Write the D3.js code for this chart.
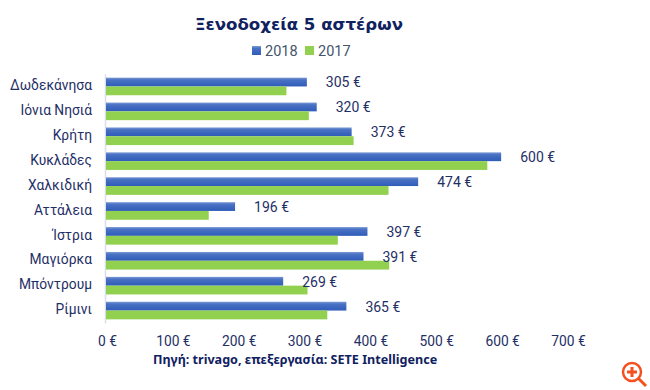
<!DOCTYPE html>
<html>
<head>
<meta charset="utf-8">
<script src="https://cdn.jsdelivr.net/npm/d3@7"></script>
<style>
  html, body { margin: 0; padding: 0; background: #fff; }
  text { font-family: Roboto, sans-serif; fill: #1f2f66; }
  .title { font-family: "DejaVu Sans", sans-serif; font-weight: bold; font-size: 16.6px; fill: #10215f; }
  .source { font-family: "Noto Sans", sans-serif; font-weight: bold; font-size: 12.6px; fill: #10215f; }
  .tick text { font-family: Roboto, sans-serif; font-size: 13.8px; }
</style>
</head>
<body>
<svg id="chart" width="650" height="390"></svg>
<script>
const categories = ["Δωδεκάνησα", "Ιόνια Νησιά", "Κρήτη", "Κυκλάδες", "Χαλκιδική", "Αττάλεια", "Ίστρια", "Μαγιόρκα", "Μπόντρουμ", "Ρίμινι"];
const values2018 = [305, 320, 373, 600, 474, 196, 397, 391, 269, 365];
const values2017 = [274, 308, 376, 579, 429, 156, 352, 430, 306, 336];
const xTicks = [0, 100, 200, 300, 400, 500, 600, 700];

const svg = d3.select("#chart");

const x = d3.scaleLinear().domain([0, 700]).range([106, 567]);
const y = d3.scaleBand().domain(categories).range([74, 323]);
const barHeight = 8.8;

// blue bars have a lighter top edge in the original
const grad = svg.append("defs").append("linearGradient")
    .attr("id", "blueBar")
    .attr("x1", 0).attr("x2", 0).attr("y1", 0).attr("y2", 1);
grad.append("stop").attr("offset", "0%").attr("stop-color", "#7d9bd6");
grad.append("stop").attr("offset", "25%").attr("stop-color", "#4a72c4");
grad.append("stop").attr("offset", "100%").attr("stop-color", "#2f5cb8");

svg.append("text")
    .attr("class", "title")
    .attr("x", 299).attr("y", 30)
    .attr("text-anchor", "middle")
    .text("Ξενοδοχεία 5 αστέρων");

// legend
const legendItems = [
    { label: "2018", fill: "url(#blueBar)", x: 252 },
    { label: "2017", fill: "#92d14f", x: 305 }
];
const legend = svg.append("g").selectAll("g")
    .data(legendItems)
    .enter()
    .append("g")
    .attr("transform", d => `translate(${d.x},46)`);
legend.append("rect")
    .attr("width", 9).attr("height", 9)
    .attr("fill", d => d.fill);
legend.append("text")
    .attr("x", 13).attr("y", 10)
    .attr("font-size", 14.5)
    .style("fill", "#44546a")
    .text(d => d.label);

// vertical axis
const yAxis = svg.append("g")
    .attr("transform", "translate(105,0)")
    .call(d3.axisLeft(y).tickSize(0).tickPadding(13));
yAxis.select(".domain").attr("stroke", "#d9dee8").attr("stroke-width", 1.5);
yAxis.selectAll(".tick text").attr("dy", "0.27em");

// horizontal axis labels
const xAxis = svg.append("g")
    .attr("transform", "translate(1,323)")
    .call(d3.axisBottom(x).tickValues(xTicks).tickSize(0).tickPadding(13).tickFormat(d => d + " €"));
xAxis.select(".domain").remove();

const rows = svg.append("g").selectAll("g")
    .data(categories)
    .enter()
    .append("g")
    .attr("transform", d => `translate(0,${y(d) + y.bandwidth() / 2})`);

rows.append("rect")
    .attr("x", x(0))
    .attr("y", -barHeight)
    .attr("width", (d, i) => x(values2018[i]) - x(0))
    .attr("height", barHeight)
    .attr("fill", "url(#blueBar)");

rows.append("rect")
    .attr("x", x(0))
    .attr("y", 0)
    .attr("width", (d, i) => x(values2017[i]) - x(0))
    .attr("height", barHeight)
    .attr("fill", "#92d14f");

rows.append("text")
    .attr("x", (d, i) => x(values2018[i]) + 19)
    .attr("y", 1)
    .attr("font-size", 14)
    .text((d, i) => values2018[i] + " €");

svg.append("text")
    .attr("class", "source")
    .attr("x", 153).attr("y", 364)
    .text("Πηγή: trivago, επεξεργασία: SETE Intelligence");

// zoom icon, bottom right corner
const icon = svg.append("g")
    .attr("transform", "translate(632,372)")
    .attr("stroke", "#f4511e")
    .attr("fill", "none");
icon.append("circle").attr("r", 9).attr("stroke-width", 2.5);
icon.append("line").attr("x1", 6.5).attr("y1", 6.5).attr("x2", 14).attr("y2", 14).attr("stroke-width", 3);
icon.append("path").attr("d", "M-5,0H5M0,-5V5").attr("stroke-width", 3);
</script>
</body>
</html>
